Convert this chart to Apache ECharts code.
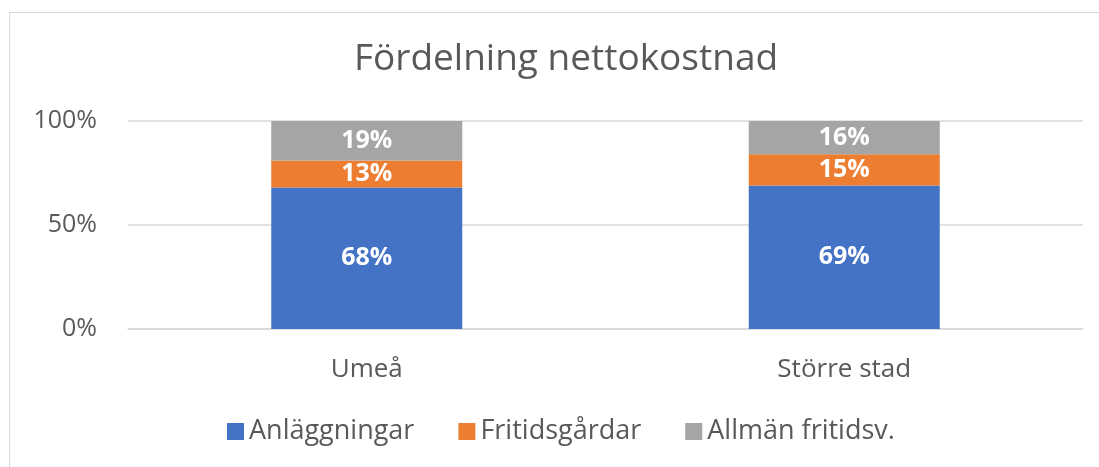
<!DOCTYPE html>
<html>
<head>
<meta charset="utf-8">
<script src="https://cdn.jsdelivr.net/npm/echarts@6/dist/echarts.min.js"></script>
<style>
  html, body { margin: 0; padding: 0; background: #fff; }
  #frame { position: absolute; left: 9px; top: 12px; width: 1110px; height: 470px; border: 1px solid #d9d9d9; box-sizing: border-box; }
  #chart { position: absolute; left: 0; top: 0; width: 1099px; height: 467px; }
</style>
</head>
<body>
<div id="frame"></div>
<div id="chart"></div>
<script>
const categories = ['Umeå', 'Större stad'];
const anlaggningar = [68, 69];
const fritidsgardar = [13, 15];
const allmanFritidsv = [19, 16];
const yTicks = [0, 50, 100];

const font = '"Open Sans", "Noto Sans", sans-serif';
const chart = echarts.init(document.getElementById('chart'));

const labelStyle = {
  show: true,
  formatter: '{c}%',
  color: '#fff',
  fontWeight: 'bold',
  fontSize: 25,
  fontFamily: font
};

function bar(name, data, color) {
  return {
    name: name,
    type: 'bar',
    stack: 'total',
    barWidth: '40%',
    data: data,
    itemStyle: { color: color },
    label: labelStyle
  };
}

chart.setOption({
  animation: false,
  title: {
    text: 'Fördelning nettokostnad',
    left: 561,
    textAlign: 'center',
    top: 36,
    textStyle: { fontFamily: font, fontSize: 37, fontWeight: 'normal', color: '#595959' }
  },
  grid: { left: 128, right: 16, top: 121, bottom: 138 },
  legend: {
    bottom: 17,
    left: 222,
    itemWidth: 17,
    itemHeight: 17,
    itemGap: 44,
    icon: 'rect',
    textStyle: { fontFamily: font, fontSize: 27, color: '#595959' },
    data: ['Anläggningar', 'Fritidsgårdar', 'Allmän fritidsv.']
  },
  xAxis: {
    type: 'category',
    data: categories,
    axisLine: { lineStyle: { color: '#d9d9d9', width: 1.5 } },
    axisTick: { show: false },
    axisLabel: { fontFamily: font, fontSize: 26, color: '#595959', margin: 28 }
  },
  yAxis: {
    type: 'value',
    min: yTicks[0],
    max: yTicks[yTicks.length - 1],
    interval: 50,
    axisLine: { show: false },
    axisTick: { show: false },
    splitLine: { lineStyle: { color: '#d9d9d9', width: 1.5 } },
    axisLabel: { formatter: '{value}%', fontFamily: font, fontSize: 25, color: '#595959', margin: 31 }
  },
  series: [
    bar('Anläggningar', anlaggningar, '#4472c4'),
    bar('Fritidsgårdar', fritidsgardar, '#ed7d31'),
    bar('Allmän fritidsv.', allmanFritidsv, '#a5a5a5')
  ]
});
</script>
</body>
</html>
